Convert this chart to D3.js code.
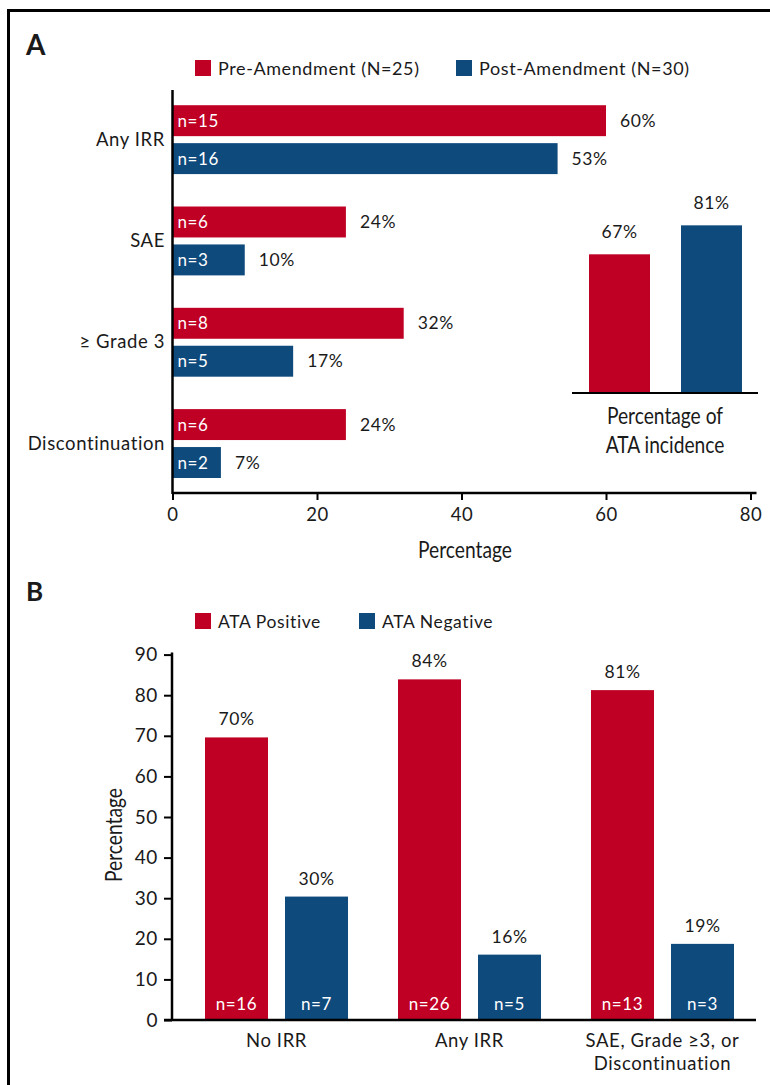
<!DOCTYPE html>
<html>
<head>
<meta charset="utf-8">
<script src="https://cdn.jsdelivr.net/npm/d3@7"></script>
<style>
  body { margin: 0; background: #fff; }
  svg text { font-family: Lato, "Noto Sans", sans-serif; fill: #1a1a1a; letter-spacing: 0.6px; }
</style>
</head>
<body>
<div id="viz"></div>
<script>
const width = 770;
const height = 1085;
const colorRed = '#BF0024';
const colorBlue = '#0F4A7D';

// Panel A data
const aCategories = ['Any IRR', 'SAE', '\u2265 Grade 3', 'Discontinuation'];
const aPreValues = [60, 24, 32, 24];
const aPostValues = [53.3, 10, 16.7, 6.7];
const aPreN = ['n=15', 'n=6', 'n=8', 'n=6'];
const aPostN = ['n=16', 'n=3', 'n=5', 'n=2'];
const aPreLabels = ['60%', '24%', '32%', '24%'];
const aPostLabels = ['53%', '10%', '17%', '7%'];
const aTicks = [0, 20, 40, 60, 80];
const aLegend = ['Pre-Amendment (N=25)', 'Post-Amendment (N=30)'];

// Inset data
const ataGroups = ['pre', 'post'];
const ataValues = [67, 81];
const ataLabels = ['67%', '81%'];

// Panel B data
const bCategories = ['No IRR', 'Any IRR', 'SAE, Grade \u22653, or|Discontinuation'];
const bPositive = [69.6, 83.9, 81.25];
const bNegative = [30.4, 16.1, 18.75];
const bPosLabels = ['70%', '84%', '81%'];
const bNegLabels = ['30%', '16%', '19%'];
const bPosN = ['n=16', 'n=26', 'n=13'];
const bNegN = ['n=7', 'n=5', 'n=3'];
const bTicks = [0, 10, 20, 30, 40, 50, 60, 70, 80, 90];
const bLegend = ['ATA Positive', 'ATA Negative'];

const svg = d3.select('#viz')
  .append('svg')
    .attr('width', width)
    .attr('height', height);

// frame (top + left)
svg.append('path')
  .attr('d', `M8.5,${height} V10.5 H${width}`)
  .attr('fill', 'none')
  .attr('stroke', '#000')
  .attr('stroke-width', 3);

// condensed text helper (axis titles)
function condensed(g, x, y, txt, size, anchor) {
  return g.append('text')
    .attr('transform', `translate(${x},${y}) scale(0.8,1)`)
    .attr('text-anchor', anchor || 'middle')
    .style('font-size', size + 'px')
    .style('letter-spacing', '0px')
    .text(txt);
}

// ---------------- Panel A ----------------
svg.append('text')
  .attr('x', 26).attr('y', 55)
  .style('font-size', '28px').style('font-weight', 'bold')
  .style('letter-spacing', '0px')
  .attr('fill', '#000')
  .text('A');

// legend A
const legA = svg.append('g');
[[195, colorRed, aLegend[0]], [456, colorBlue, aLegend[1]]].forEach(l => {
  legA.append('rect').attr('x', l[0]).attr('y', 60).attr('width', 16).attr('height', 16).attr('fill', l[1]);
  legA.append('text').attr('x', l[0] + 23).attr('y', 75).style('font-size', '18px').text(l[2]);
});

const xA = d3.scaleLinear().domain([0, 80]).range([172.5, 750.5]);
const yA = d3.scaleBand().domain(aCategories).range([89, 494.2]).paddingInner(0.32).paddingOuter(0.16);
const ySub = d3.scaleBand().domain(['pre', 'post']).range([0, yA.bandwidth()]).paddingInner(7 / 38);

const aRows = aCategories.map((c, i) => ({
  cat: c,
  bars: [
    {key: 'pre', v: aPreValues[i], n: aPreN[i], lab: aPreLabels[i]},
    {key: 'post', v: aPostValues[i], n: aPostN[i], lab: aPostLabels[i]}
  ]
}));

const gA = svg.append('g');
const rowG = gA.selectAll('.row')
  .data(aRows)
  .join('g')
    .attr('class', 'row')
    .attr('transform', d => `translate(0,${yA(d.cat)})`);

const barG = rowG.selectAll('.bar')
  .data(d => d.bars)
  .join('g')
    .attr('class', 'bar');

barG.append('rect')
  .attr('x', xA(0))
  .attr('y', d => ySub(d.key))
  .attr('width', d => xA(d.v) - xA(0))
  .attr('height', ySub.bandwidth())
  .attr('fill', d => d.key === 'pre' ? colorRed : colorBlue);

barG.append('text')
  .attr('x', xA(0) + 5)
  .attr('y', d => ySub(d.key) + ySub.bandwidth() / 2 + 6)
  .style('font-size', '17px')
  .style('fill', '#fff')
  .text(d => d.n);

barG.append('text')
  .attr('x', d => xA(d.v) + 14)
  .attr('y', d => ySub(d.key) + ySub.bandwidth() / 2 + 6)
  .style('font-size', '17.5px')
  .text(d => d.lab);

// category labels
gA.selectAll('.cat')
  .data(aCategories)
  .join('text')
    .attr('class', 'cat')
    .attr('x', 165)
    .attr('y', d => yA(d) + yA.bandwidth() / 2 + 6)
    .attr('text-anchor', 'end')
    .style('font-size', '18.5px')
    .text(d => d);

// axes A
const axisA = gA.append('g')
  .attr('transform', `translate(0,493)`)
  .call(d3.axisBottom(xA).tickValues(aTicks).tickSize(7).tickSizeOuter(0).tickPadding(8));
axisA.select('.domain').attr('stroke-width', 2.5).attr('d', `M${xA(0)},0H${xA(80) + 6}`);
axisA.selectAll('.tick line').attr('stroke-width', 2);
axisA.selectAll('.tick text').style('font-size', '18.5px').style('font-family', 'Lato, sans-serif').attr('fill', '#1a1a1a');

gA.append('line')
  .attr('x1', xA(0)).attr('x2', xA(0))
  .attr('y1', 90).attr('y2', 494)
  .attr('stroke', '#000').attr('stroke-width', 2.5);

condensed(gA, 465, 558, 'Percentage', 24);

// inset: ATA incidence
const xI = d3.scaleBand().domain(ataGroups).range([572, 759]).paddingInner(0.337).paddingOuter(0.185);
const yI = d3.scaleLinear().domain([0, 100]).range([393, 186]);
const gI = svg.append('g');
gI.selectAll('rect')
  .data(ataGroups)
  .join('rect')
    .attr('x', d => xI(d))
    .attr('y', (d, i) => yI(ataValues[i]))
    .attr('width', xI.bandwidth())
    .attr('height', (d, i) => yI(0) - yI(ataValues[i]))
    .attr('fill', (d, i) => i === 0 ? colorRed : colorBlue);
gI.selectAll('.lab')
  .data(ataGroups)
  .join('text')
    .attr('class', 'lab')
    .attr('x', d => xI(d) + xI.bandwidth() / 2)
    .attr('y', (d, i) => yI(ataValues[i]) - 16)
    .attr('text-anchor', 'middle')
    .style('font-size', '17.5px')
    .text((d, i) => ataLabels[i]);
gI.append('line')
  .attr('x1', 572).attr('x2', 758)
  .attr('y1', yI(0)).attr('y2', yI(0))
  .attr('stroke', '#000').attr('stroke-width', 2);
condensed(gI, 665, 424, 'Percentage of', 24);
condensed(gI, 665, 453, 'ATA incidence', 24);

// ---------------- Panel B ----------------
svg.append('text')
  .attr('x', 26).attr('y', 601)
  .style('font-size', '26px').style('font-weight', 'bold')
  .style('letter-spacing', '0px')
  .attr('fill', '#000')
  .text('B');

const legB = svg.append('g');
[[195, colorRed, bLegend[0]], [359, colorBlue, bLegend[1]]].forEach(l => {
  legB.append('rect').attr('x', l[0]).attr('y', 613).attr('width', 16).attr('height', 16).attr('fill', l[1]);
  legB.append('text').attr('x', l[0] + 23).attr('y', 628).style('font-size', '17.5px').text(l[2]);
});

const yB = d3.scaleLinear().domain([0, 90]).range([1020, 654.6]);
const xB = d3.scaleBand().domain(bCategories).range([172, 767]).paddingInner(0.259).paddingOuter(0.171);
const xSub = d3.scaleBand().domain(['pos', 'neg']).range([0, xB.bandwidth()]).paddingInner(17 / 80);

const bRows = bCategories.map((c, i) => ({
  cat: c,
  bars: [
    {key: 'pos', v: bPositive[i], lab: bPosLabels[i], n: bPosN[i]},
    {key: 'neg', v: bNegative[i], lab: bNegLabels[i], n: bNegN[i]}
  ]
}));

const gB = svg.append('g');
const colG = gB.selectAll('.col')
  .data(bRows)
  .join('g')
    .attr('class', 'col')
    .attr('transform', d => `translate(${xB(d.cat)},0)`);

const colBar = colG.selectAll('.bar')
  .data(d => d.bars)
  .join('g')
    .attr('class', 'bar');

colBar.append('rect')
  .attr('x', d => xSub(d.key))
  .attr('y', d => yB(d.v))
  .attr('width', xSub.bandwidth())
  .attr('height', d => yB(0) - yB(d.v))
  .attr('fill', d => d.key === 'pos' ? colorRed : colorBlue);

colBar.append('text')
  .attr('x', d => xSub(d.key) + xSub.bandwidth() / 2)
  .attr('y', d => yB(d.v) - 12)
  .attr('text-anchor', 'middle')
  .style('font-size', '17.5px')
  .text(d => d.lab);

colBar.append('text')
  .attr('x', d => xSub(d.key) + xSub.bandwidth() / 2)
  .attr('y', yB(0) - 10)
  .attr('text-anchor', 'middle')
  .style('font-size', '17px')
  .style('fill', '#fff')
  .text(d => d.n);

// x category labels B
gB.selectAll('.xcat')
  .data(bCategories)
  .join('text')
    .attr('class', 'xcat')
    .attr('text-anchor', 'middle')
    .style('font-size', '18.5px')
    .each(function(d) {
      const lines = d.split('|');
      d3.select(this).selectAll('tspan')
        .data(lines)
        .join('tspan')
          .attr('x', xB(d) + xB.bandwidth() / 2)
          .attr('y', (l, i) => 1047 + i * 23)
          .text(l => l);
    });

// y axis B
const axisB = gB.append('g')
  .attr('transform', 'translate(172,0)')
  .call(d3.axisLeft(yB).tickValues(bTicks).tickSize(8).tickSizeOuter(0).tickPadding(6));
axisB.select('.domain').attr('stroke-width', 2.5).attr('d', `M0,${yB(0)}V${yB(90) - 2}`);
axisB.selectAll('.tick line').attr('stroke-width', 2);
axisB.selectAll('.tick text').style('font-size', '19px').style('font-family', 'Lato, sans-serif').attr('fill', '#1a1a1a');

gB.append('line')
  .attr('x1', 164).attr('x2', 756)
  .attr('y1', yB(0)).attr('y2', yB(0))
  .attr('stroke', '#000').attr('stroke-width', 2.5);

gB.append('text')
  .attr('transform', 'translate(122,835) rotate(-90) scale(0.8,1)')
  .attr('text-anchor', 'middle')
  .style('font-size', '24px')
  .style('letter-spacing', '0px')
  .text('Percentage');
</script>
</body>
</html>
